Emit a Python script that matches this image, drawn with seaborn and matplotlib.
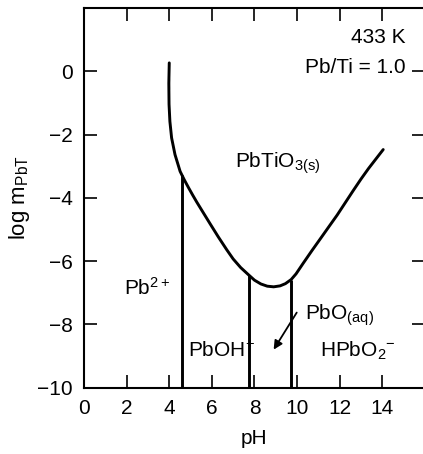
import matplotlib
matplotlib.use("Agg")
import matplotlib.pyplot as plt
import seaborn as sns
import pandas as pd

# Solubility curve of PbTiO3(s): pH vs log m_PbT
curve_ph = [4.00, 3.98, 3.98, 3.99, 4.03, 4.11, 4.27, 4.51, 4.70, 4.90, 5.10, 5.29,
            5.60, 5.92, 6.30, 6.70, 7.00, 7.35, 7.72, 8.00, 8.30, 8.60, 8.90,
            9.20, 9.45, 9.72, 9.95, 10.28, 10.70, 11.08, 11.50, 11.88, 12.25, 12.63,
            13.00, 13.35, 13.66, 14.04]
curve_log = [0.27, -0.20, -0.55, -1.04, -1.58, -2.10, -2.63, -3.16, -3.42, -3.67, -3.91, -4.13,
             -4.47, -4.82, -5.23, -5.64, -5.93, -6.20, -6.43, -6.60, -6.72, -6.79, -6.81,
             -6.78, -6.71, -6.58, -6.40, -6.07, -5.66, -5.30, -4.90, -4.54, -4.16, -3.77,
             -3.40, -3.07, -2.80, -2.47]

# Predominance boundaries (pH) and where they meet the curve
boundary_ph = [4.60, 7.72, 9.72]
boundary_top = [-3.28, -6.43, -6.58]
y_bottom = -10

# Region labels (left edge, baseline)
labels = ["Pb$^{2+}$", "PbOH$^{+}$", "PbO$_{(aq)}$", "HPbO$_{2}$$^{-}$", "PbTiO$_{3(s)}$"]
label_x = [1.88, 4.88, 10.38, 11.08, 7.09]
label_y = [-7.07, -9.03, -7.86, -9.03, -3.04]

x_ticks = [0, 2, 4, 6, 8, 10, 12, 14]
y_ticks = [0, -2, -4, -6, -8, -10]

FS = 15

sns.set_theme(style="ticks")
plt.rcParams["font.family"] = ["Liberation Sans", "DejaVu Sans"]
plt.rcParams["mathtext.default"] = "regular"
plt.rcParams["axes.unicode_minus"] = True
plt.rcParams["text.color"] = "black"
plt.rcParams["axes.labelcolor"] = "black"
plt.rcParams["xtick.color"] = "black"
plt.rcParams["ytick.color"] = "black"

fig = plt.figure(figsize=(4.23, 4.54), dpi=100)
ax = fig.add_axes([0.1986, 0.146, 0.8061, 0.836])

df = pd.DataFrame({"pH": curve_ph, "logm": curve_log})
sns.lineplot(data=df, x="pH", y="logm", sort=False, color="black", lw=2.1, ax=ax)
ax.vlines(boundary_ph, y_bottom, boundary_top, colors="black", lw=2.1)

ax.set_xlim(0, 16)
ax.set_ylim(-10, 2)
ax.set_xticks(x_ticks)
ax.set_yticks(y_ticks)
ax.tick_params(direction="in", length=9.5, width=1.2, labelsize=FS, top=True, right=True,
               colors="black", labelcolor="black", pad=8)
for s in ax.spines.values():
    s.set_linewidth(1.5)
    s.set_color("black")

ax.set_xlabel("pH", fontsize=FS, labelpad=8, color="black")
ax.set_ylabel("log m$_{PbT}$", fontsize=16, labelpad=4, color="black")

for t, x, y in zip(labels, label_x, label_y):
    ax.text(x, y, t, fontsize=FS, ha="left", va="baseline", color="black")

ax.text(15.07, 0.91, "433 K", fontsize=FS, ha="right", va="baseline", color="black")
ax.text(15.07, -0.04, "Pb/Ti = 1.0", fontsize=FS, ha="right", va="baseline", color="black")
ax.annotate("", xy=(8.83, -8.87), xytext=(10.05, -7.55),
            arrowprops=dict(arrowstyle="-|>", color="black", lw=1.3, mutation_scale=13))

fig.savefig("out.png", dpi=100)
